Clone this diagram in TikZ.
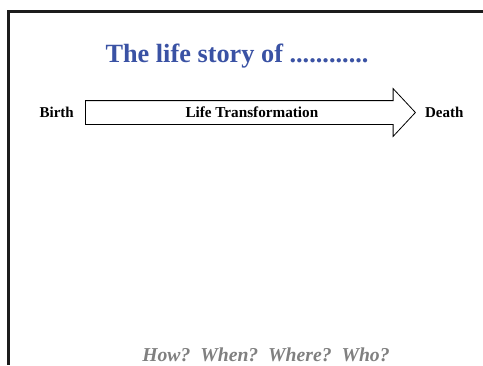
\documentclass[tikz,border=0pt]{standalone}
\usepackage{fontspec}
\setmainfont{Liberation Serif}
\usepackage{xcolor}
\usetikzlibrary{positioning,shapes.arrows}

\definecolor{titleblue}{HTML}{3A52A4}
\definecolor{askgray}{HTML}{808080}
\definecolor{framegray}{HTML}{1C1C1C}

\begin{document}
\begin{tikzpicture}[
		x=1pt, y=-1pt,
		node distance=10pt,
		titletext/.style={
			font=\bfseries\fontsize{26.3}{30}\selectfont,
			text=titleblue,
			inner sep=0pt
		},
		arrowbox/.style={
			single arrow,
			draw,
			line width=0.8pt,
			minimum height=330pt,
			text height=11.3pt,
			text depth=1.7pt,
			inner xsep=0pt,
			inner ysep=5pt,
			single arrow head extend=12pt,
			single arrow tip angle=94,
			font=\bfseries\fontsize{15.2}{17}\selectfont
		},
		endlabel/.style={
			font=\bfseries\fontsize{15}{17}\selectfont,
			inner sep=0pt
		},
		asktext/.style={
			font=\bfseries\itshape\fontsize{19.7}{23}\selectfont,
			text=askgray,
			inner sep=0pt
		}
	]
		\useasboundingbox (0,0) rectangle (483,365);
		% slide frame, cut off at right and bottom
		\draw[framegray, line width=2.4pt] (483,11.5) -| (8.5,365);

		\node[titletext, anchor=base] (title) at (237,62) {The life story of ............};

		\node[arrowbox, anchor=tail] (lifearrow) at (85,112.5) {\hspace*{14pt}Life Transformation};
		\node[endlabel, left=11pt of lifearrow.tail] (birth) {Birth};
		\node[endlabel, right=9pt of lifearrow.tip] (death) {Death};

		\node[asktext, anchor=base] (questions) at (266,361) {How?\ \ When?\ \ Where?\ \ Who?};
	\end{tikzpicture}
\end{document}
